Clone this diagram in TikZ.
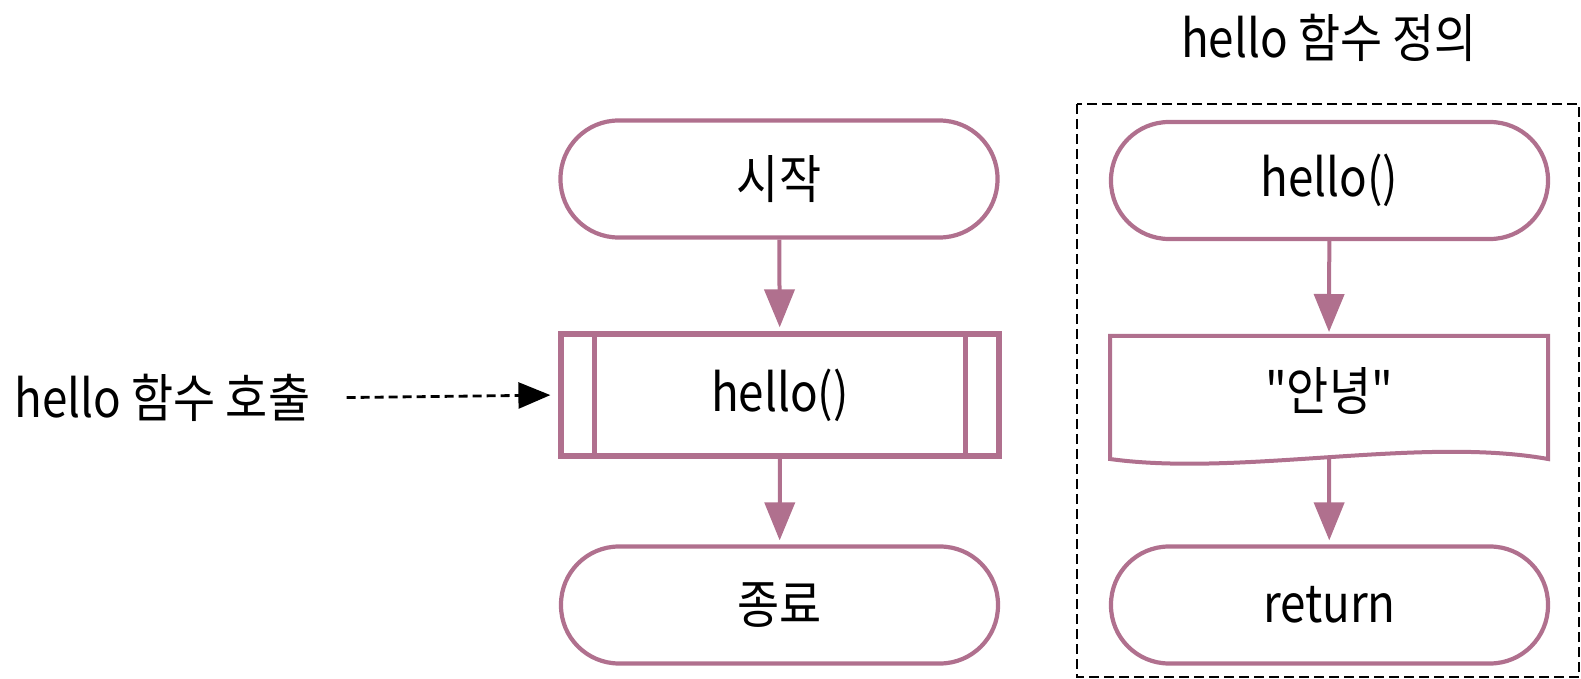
\documentclass[tikz,border=0pt]{standalone}
\usepackage{fontspec}
\setmainfont{Noto Sans CJK KR}[FakeStretch=0.88,Ligatures=TeXOff]
\usetikzlibrary{arrows.meta}
\definecolor{mauve}{RGB}{176,112,142}
\begin{document}
\begin{tikzpicture}[x=0.5pt,y=-0.5pt,
  every node/.style={font=\fontsize{26}{31}\selectfont,text=black},
  term/.style={draw=mauve,line width=2.1pt,rounded corners=29pt,minimum width=218.5pt,minimum height=58.5pt,inner sep=0pt},
  subr/.style={draw=mauve,line width=2.6pt,minimum width=219pt,minimum height=61pt,inner sep=0pt},
  plain/.style={inner sep=0pt},
  flow/.style={draw=mauve,line width=2pt,-{Triangle[width=15pt,length=19pt]},shorten >=2pt},
  callarrow/.style={draw=black,line width=1.4pt,dash pattern=on 4.5pt off 2.5pt,-{Triangle[width=13pt,length=16pt]}},
  frame/.style={draw=black,line width=1.1pt,dash pattern=on 5pt off 2.5pt},
  docshape/.style={draw=mauve,line width=2pt,line join=miter}
]
\useasboundingbox (0,0) rectangle (1581,679);

% left column
\node[term] (start) at (779,179) {시작};
\node[subr] (sub) at (780,395) {hello()};
\draw[mauve,line width=2.6pt] ([xshift=18pt]sub.north west) -- ([xshift=18pt]sub.south west);
\draw[mauve,line width=2.6pt] ([xshift=-18pt]sub.north east) -- ([xshift=-18pt]sub.south east);
\node[term] (end) at (779.5,605) {종료};
\draw[flow] (start) -- (sub);
\draw[flow] (sub) -- (end);

% call label
\node[plain,anchor=west] (lbl) at (14,398) {hello 함수 호출};
\draw[callarrow,shorten <=18pt,shorten >=4pt] (lbl.east) -- (sub.west);

% right column
\node[plain] (title) at (1329,38) {hello 함수 정의};
\draw[frame] (1077,104) rectangle (1579,677);
\node[term] (hello) at (1329.5,180.5) {hello()};
\draw[docshape] (1110,459) -- (1110,336) -- (1548,336) -- (1548,459)
   .. controls (1420,436) and (1240,477) .. (1110,459) -- cycle;
\node[plain] (doc) at (1329,391) {"안녕"};
\coordinate (docbot) at (1329,457);
\node[term] (ret) at (1329.5,605) {return};
\draw[flow] (hello) -- (1329,336);
\draw[flow] (docbot) -- (ret);
\end{tikzpicture}
\end{document}
